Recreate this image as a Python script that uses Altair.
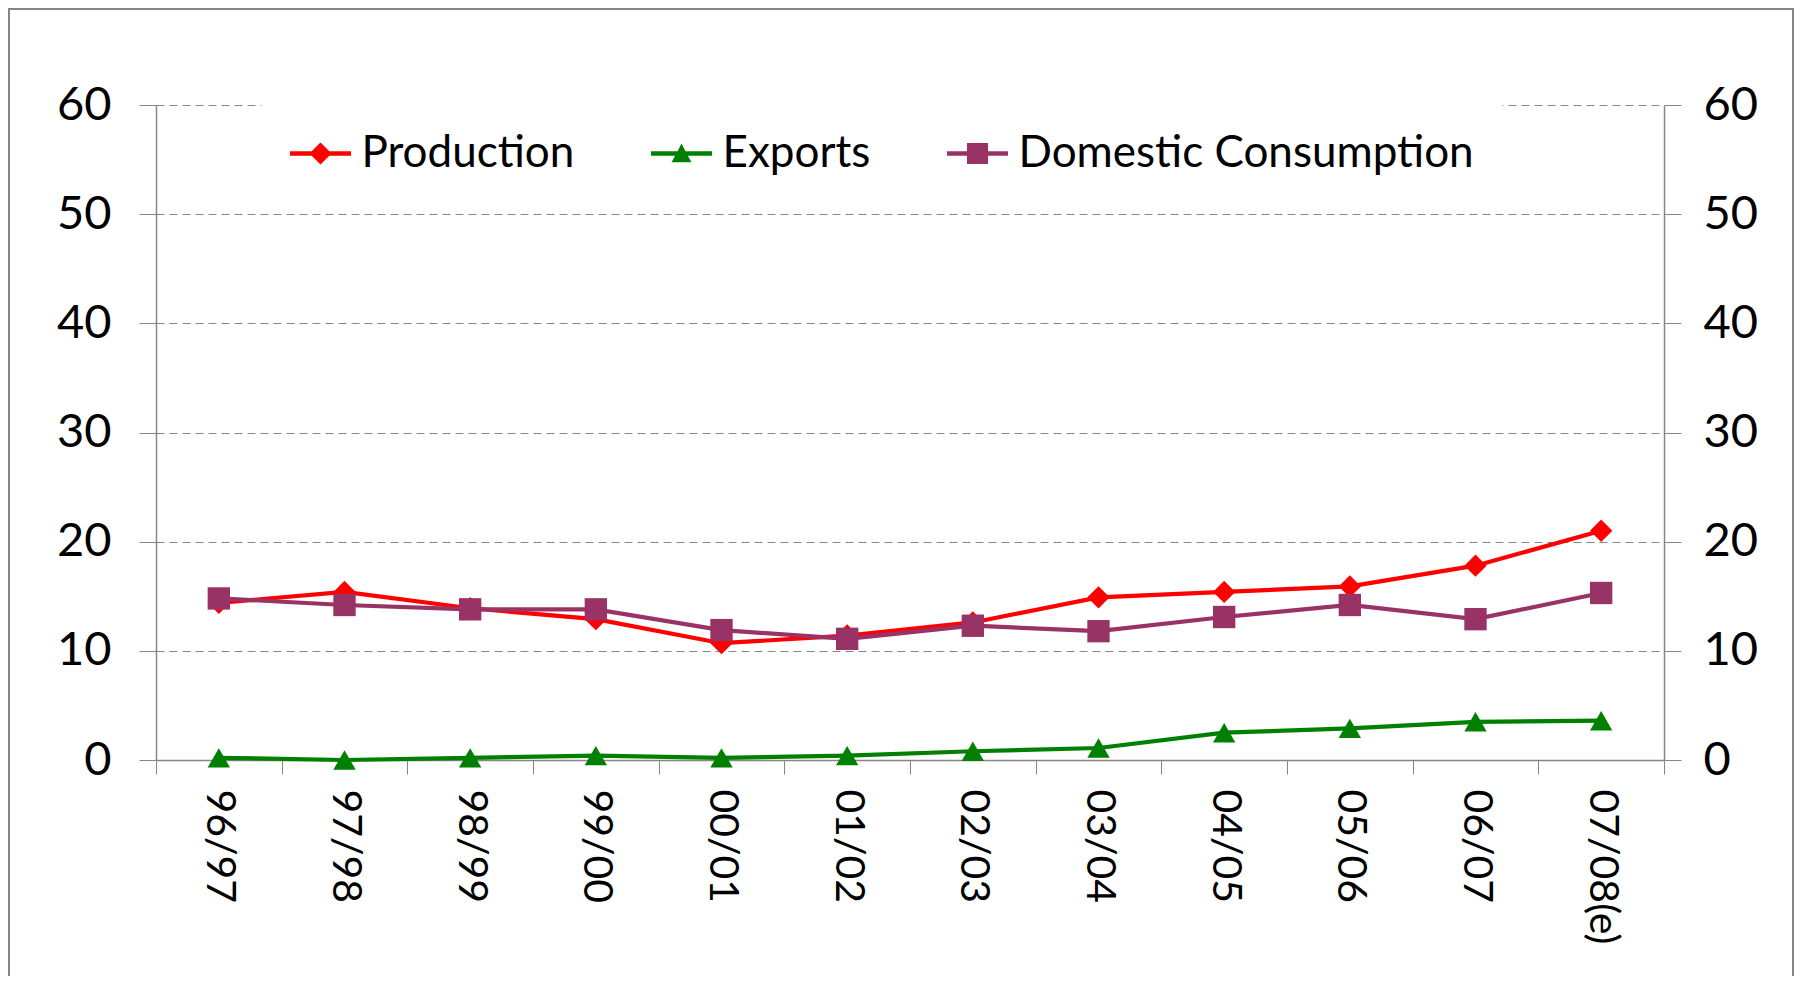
import altair as alt
import pandas as pd

# ---- data ----
seasons = ["96/97", "97/98", "98/99", "99/00", "00/01", "01/02",
           "02/03", "03/04", "04/05", "05/06", "06/07", "07/08(e)"]
production = [14.4, 15.4, 13.9, 12.9, 10.7, 11.4, 12.6, 14.9, 15.4, 15.9, 17.8, 21.0]
exports = [0.2, 0.0, 0.2, 0.4, 0.2, 0.4, 0.8, 1.1, 2.5, 2.9, 3.5, 3.6]
consumption = [14.8, 14.2, 13.8, 13.8, 11.9, 11.1, 12.3, 11.8, 13.1, 14.2, 12.9, 15.3]

series_names = ["Production", "Exports", "Domestic Consumption"]
series_colors = ["#FF0000", "#008000", "#993366"]
marker_shapes = ["diamond", "triangle-up", "square"]
y_ticks = [0, 10, 20, 30, 40, 50, 60]

# legend symbols: line segment with marker (custom SVG paths)
legend_shapes = [
    "M-1.386,-0.1L-0.4,-0.1L0,-0.5L0.4,-0.1L1.386,-0.1L1.386,0.1L0.4,0.1L0,0.5L-0.4,0.1L-1.386,0.1Z",
    "M-1.386,-0.1L-0.18,-0.1L0,-0.45L0.18,-0.1L1.386,-0.1L1.386,0.1L0.29,0.1L0.45,0.4L-0.45,0.4L-0.29,0.1L-1.386,0.1Z",
    "M-1.386,-0.1L-0.48,-0.1L-0.48,-0.48L0.48,-0.48L0.48,-0.1L1.386,-0.1L1.386,0.1L0.48,0.1L0.48,0.48L-0.48,0.48L-0.48,0.1L-1.386,0.1Z",
]

rows = []
for name, vals in zip(series_names, [production, exports, consumption]):
    for s, v in zip(seasons, vals):
        rows.append({"season": s, "value": v, "series": name})
df = pd.DataFrame(rows)

FONT = "Lato"
GRAY = "#868686"
W, H = 1508, 655

x_enc = alt.X(
    "season:N",
    sort=seasons,
    bandPosition=0.5,
    scale=alt.Scale(type="band", paddingInner=0, paddingOuter=0),
    axis=alt.Axis(
        title=None, tickBand="extent", tickSize=14, tickColor=GRAY, tickWidth=1,
        domainColor=GRAY, domainWidth=1.5, labelAngle=90, labelPadding=15,
        labelFont=FONT, labelFontSize=41, labelColor="black", labelOverlap=False,
        labelBound=False, grid=False,
    ),
)

y_scale = alt.Scale(domain=[0, 60], nice=False, zero=True)

y_left = alt.Y(
    "value:Q", scale=y_scale,
    axis=alt.Axis(
        title=None, values=y_ticks, orient="left", tickSize=17, tickColor=GRAY,
        domainColor=GRAY, domainWidth=1.5, labelPadding=28, labelFont=FONT,
        labelFontSize=47, labelColor="black", grid=True, gridColor=GRAY,
        gridDash=[8, 5], gridWidth=1,
    ),
)
y_none = alt.Y("value:Q", scale=y_scale, axis=None)
y_right = alt.Y(
    "value:Q", scale=y_scale,
    axis=alt.Axis(
        title=None, values=y_ticks, orient="right", tickSize=17, tickColor=GRAY,
        domainColor=GRAY, domainWidth=1.5, labelPadding=22, labelFont=FONT,
        labelFontSize=47, labelColor="black", grid=False,
    ),
)

color_scale = alt.Scale(domain=series_names, range=series_colors)

frame = alt.Chart(alt.Data(values=[{}])).mark_rect(
    fill="white", fillOpacity=0, stroke=GRAY, strokeWidth=2
).encode(
    x=alt.value(-147), x2=alt.value(1637), y=alt.value(-96), y2=alt.value(H + 400)
)

lines = alt.Chart(df).mark_line(strokeWidth=4.2).encode(
    x=x_enc, y=y_left,
    color=alt.Color("series:N", scale=color_scale, legend=None),
    detail="series:N",
)

points = alt.Chart(df).mark_point(filled=True, opacity=1, size=500).encode(
    x=x_enc, y=y_none,
    color=alt.Color("series:N", scale=color_scale, legend=None),
    shape=alt.Shape("series:N", scale=alt.Scale(domain=series_names, range=marker_shapes), legend=None),
    order=alt.Order("order:Q"),
).transform_calculate(
    order="indexof(['Production','Exports','Domestic Consumption'], datum.series)"
)

legend_layer = alt.Chart(df).transform_filter("false").mark_point(
    filled=True, opacity=1
).encode(
    x=x_enc, y=y_right,
    color=alt.Color(
        "series:N", scale=color_scale,
        legend=alt.Legend(
            title=None, orient="none", direction="horizontal", legendX=105.5, legendY=-1.5,
            fillColor="white", padding=28, symbolSize=1936, symbolStrokeWidth=0,
            symbolOffset=9, labelOffset=19, columnPadding=76, labelFont=FONT,
            labelFontSize=44, labelColor="black", symbolOpacity=1, labelLimit=1000,
        ),
    ),
    shape=alt.Shape("series:N", scale=alt.Scale(domain=series_names, range=legend_shapes)),
)

chart = alt.layer(frame, lines, points, legend_layer).resolve_scale(
    y="independent", color="independent", shape="independent"
).properties(
    width=W, height=H,
    padding={"left": 148, "top": 97, "right": 130, "bottom": 216},
    autosize=alt.AutoSizeParams(type="none"),
    background="white",
).configure_view(strokeWidth=0)

chart.save("out.html", embed_options={"renderer": "svg", "actions": False})
